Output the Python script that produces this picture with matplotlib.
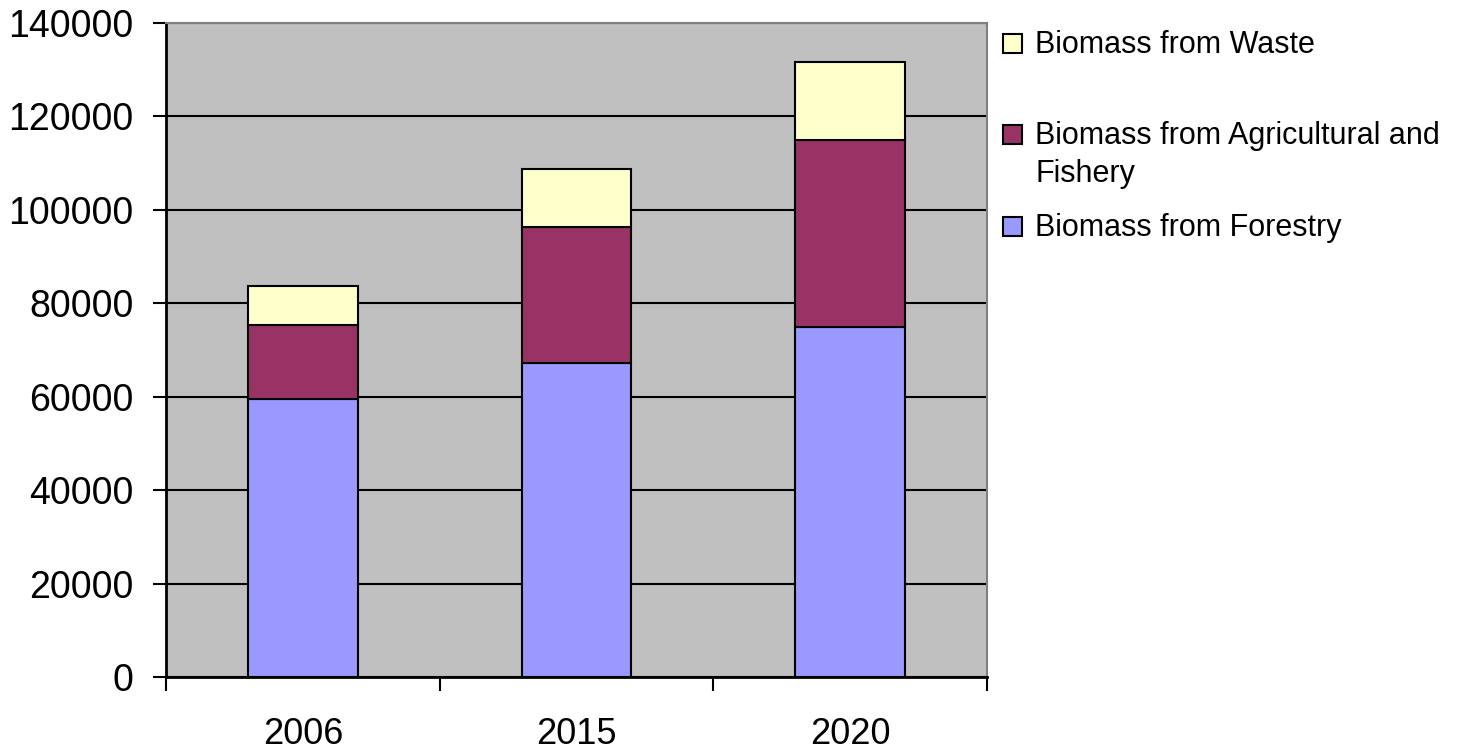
import matplotlib
matplotlib.use("Agg")
import matplotlib.pyplot as plt
from matplotlib.patches import Rectangle
import numpy as np

years = ["2006", "2015", "2020"]
forestry = [59600, 67300, 75000]
agri     = [15650, 29050, 40000]
waste    = [8500, 12400, 16550]

series = ["Biomass from Forestry", "Biomass from Agricultural and\nFishery", "Biomass from Waste"]
colors = ["#9999FF", "#993366", "#FFFFCC"]

plt.rcParams["font.family"] = ["Liberation Sans", "DejaVu Sans"]

fig = plt.figure(figsize=(14.7, 7.54), dpi=100)
ax = fig.add_axes([166/1470, 1-677/754, (987-166)/1470, (677-23)/754])
ax.set_facecolor("#C0C0C0")

x = np.arange(len(years))
bottom = np.zeros(len(years))
for vals, col in zip([forestry, agri, waste], colors):
    ax.bar(x, vals, width=0.4, bottom=bottom, color=col, edgecolor="black", linewidth=1.5, zorder=3)
    bottom += np.array(vals)

ax.set_xlim(-0.5, 2.5)
ax.set_ylim(0, 140000)
ax.set_yticks(np.arange(0, 140001, 20000))
ax.yaxis.grid(True, color="black", linewidth=1.5, zorder=1)
ax.tick_params(axis="y", direction="out", length=9.5, width=1.5, labelsize=27, pad=14)

ax.set_xticks(x)
ax.set_xticklabels(years)
ax.set_xticks([-0.5, 0.5, 1.5, 2.5], minor=True)
ax.tick_params(axis="x", which="major", length=0, labelsize=26, pad=29)
ax.tick_params(axis="x", which="minor", direction="out", length=10, width=1.5)

for s in ["top", "right"]:
    ax.spines[s].set_color("#808080")
    ax.spines[s].set_linewidth(1.5)
for s in ["left", "bottom"]:
    ax.spines[s].set_color("black")
    ax.spines[s].set_linewidth(2)

# legend, drawn by hand to match the uneven spacing
leg_y = [226, 134, 43]
for lab, col, yy in zip(series, colors, leg_y):
    fig.add_artist(Rectangle((1003/1470, 1-(yy+9.5)/754), 19/1470, 19/754,
                             transform=fig.transFigure, facecolor=col,
                             edgecolor="black", linewidth=1.5))
    fig.text(1035/1470, 1-(yy-13)/754, lab, fontsize=22, va="top", ha="left",
             linespacing=1.35)

fig.savefig("out.png", dpi=100)
